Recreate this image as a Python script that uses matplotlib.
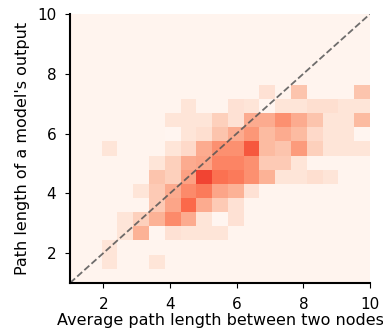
import matplotlib
matplotlib.use("Agg")
import matplotlib.pyplot as plt
import numpy as np

# 19 x 19 bins between 1 and 10, rows listed bottom -> top
# values are colour intensity in percent of the Reds colormap
bin_lo, bin_hi, n_bins = 1, 10, 19
grid = [
    [1, 1, 1, 1, 1, 1, 1, 1, 1, 1, 1, 1, 1, 1, 1, 1, 1, 1, 1],
    [1, 1, 10, 1, 1, 10, 1, 1, 1, 1, 1, 1, 1, 1, 1, 1, 1, 1, 1],
    [1, 1, 10, 1, 1, 1, 1, 1, 1, 1, 1, 1, 1, 1, 1, 1, 1, 1, 1],
    [1, 1, 1, 10, 28, 0, 12, 10, 10, 10, 1, 1, 1, 1, 1, 1, 1, 1, 1],
    [1, 1, 1, 10, 18, 28, 40, 30, 10, 0, 12, 1, 1, 1, 1, 1, 1, 1, 1],
    [1, 1, 1, 1, 1, 20, 32, 50, 30, 20, 12, 1, 1, 1, 1, 1, 1, 1, 1],
    [1, 1, 1, 1, 10, 20, 30, 40, 45, 32, 28, 12, 1, 1, 1, 1, 1, 1, 1],
    [1, 1, 1, 1, 1, 22, 18, 33, 60, 48, 45, 38, 28, 10, 10, 13, 10, 1, 1],
    [1, 1, 1, 1, 1, 10, 18, 30, 32, 42, 42, 38, 20, 20, 10, 1, 1, 1, 1],
    [1, 1, 10, 1, 1, 1, 10, 15, 30, 38, 38, 55, 25, 22, 35, 18, 10, 10, 10],
    [1, 1, 1, 1, 1, 1, 0, 10, 13, 22, 30, 36, 25, 30, 25, 15, 10, 10, 0],
    [1, 1, 1, 1, 1, 1, 10, 10, 10, 18, 12, 30, 30, 38, 30, 22, 10, 10, 25],
    [1, 1, 1, 1, 1, 1, 1, 10, 1, 1, 12, 10, 0, 10, 10, 13, 13, 10, 10],
    [1, 1, 1, 1, 1, 1, 1, 1, 1, 1, 1, 1, 12, 1, 22, 1, 1, 1, 22],
    [1] * 19,
    [1] * 19,
    [1] * 19,
    [1] * 19,
    [1] * 19,
]
ticks = [2, 4, 6, 8, 10]

edges = np.linspace(bin_lo, bin_hi, n_bins + 1)

fig = plt.figure(figsize=(3.83, 3.34), dpi=100)
ax = fig.add_axes([0.183, 0.153, 0.783, 0.805])
ax.pcolormesh(edges, edges, np.array(grid), cmap="Reds", vmin=0, vmax=100)
ax.plot([bin_lo, bin_hi], [bin_lo, bin_hi], ls="--", color="#555555", lw=1.3, alpha=0.85)

ax.set_xlim(bin_lo, bin_hi)
ax.set_ylim(bin_lo, bin_hi)
ax.set_xticks(ticks)
ax.set_yticks(ticks)
ax.tick_params(labelsize=11, pad=6.5)
ax.spines["top"].set_visible(False)
ax.spines["right"].set_visible(False)
ax.spines["left"].set_linewidth(1.5)
ax.spines["bottom"].set_linewidth(1.5)
ax.set_xlabel("Average path length between two nodes", fontsize=11.5, labelpad=1)
ax.set_ylabel("Path length of a model's output", fontsize=11.5, labelpad=5)

fig.savefig("out.png", dpi=100)
